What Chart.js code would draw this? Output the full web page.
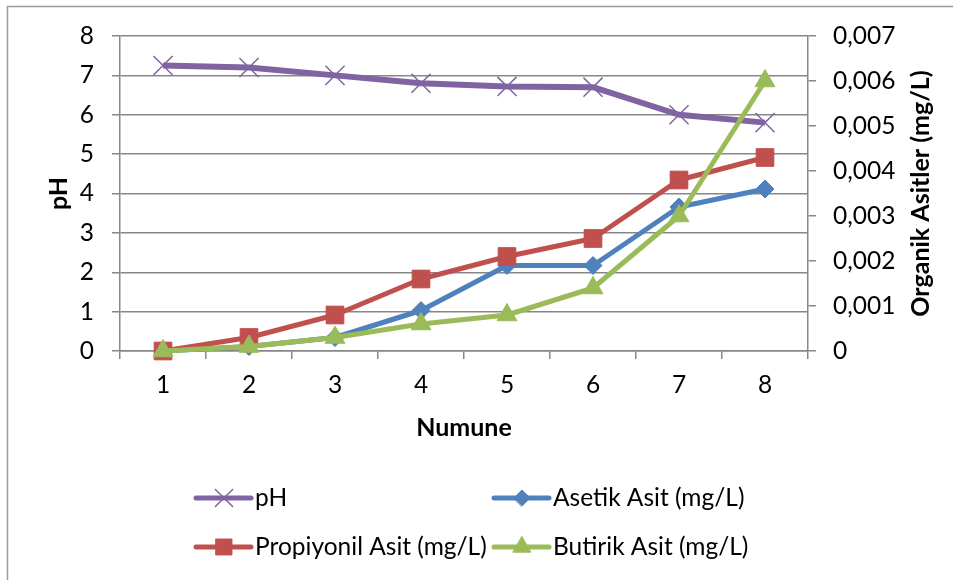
<!DOCTYPE html>
<html>
<head>
<meta charset="utf-8">
<script src="https://cdn.jsdelivr.net/npm/chart.js@4/dist/chart.umd.min.js"></script>
<style>
  html, body { margin: 0; padding: 0; background: #fff; }
  canvas { display: block; }
</style>
</head>
<body>
<canvas id="c" width="958" height="580"></canvas>
<script>
// ---- Data ----
const categories = ['1', '2', '3', '4', '5', '6', '7', '8'];
const phValues = [7.25, 7.2, 7.0, 6.8, 6.72, 6.7, 6.0, 5.8];
const asetikValues = [0, 0.0001, 0.0003, 0.0009, 0.0019, 0.0019, 0.0032, 0.0036];
const propiyonilValues = [0, 0.0003, 0.0008, 0.0016, 0.0021, 0.0025, 0.0038, 0.0043];
const butirikValues = [0, 0.0001, 0.0003, 0.0006, 0.0008, 0.0014, 0.003, 0.006];
const leftAxisRange = [0, 8];
const rightAxisRange = [0, 0.007];
const seriesNames = ['pH', 'Asetik Asit (mg/L)', 'Propiyonil Asit (mg/L)', 'Butirik Asit (mg/L)'];
const xTitle = 'Numune';
const leftTitle = 'pH';
const rightTitle = 'Organik Asitler (mg/L)';

const FONT = 'Lato, Calibri, Carlito, sans-serif';
const TICK_FONT = { family: FONT, size: 24.5 };
const TITLE_FONT = { family: FONT, size: 25, weight: 'bold' };
const GRID = '#878787';

const borderPlugin = {
  id: 'frame',
  beforeDraw(chart) {
    const ctx = chart.ctx;
    ctx.save();
    ctx.strokeStyle = '#9a9a9a';
    ctx.lineWidth = 1.5;
    ctx.beginPath();
    ctx.moveTo(7.5, 580);
    ctx.lineTo(7.5, 6.5);
    ctx.lineTo(953, 6.5);
    ctx.stroke();
    ctx.restore();
  }
};

const rightTitlePlugin = {
  id: 'rightTitle',
  afterDraw(chart) {
    const ctx = chart.ctx;
    const a = chart.chartArea;
    ctx.save();
    ctx.translate(921, (a.top + a.bottom) / 2);
    ctx.rotate(-Math.PI / 2);
    ctx.font = 'bold 25px ' + FONT;
    ctx.fillStyle = '#000';
    ctx.textAlign = 'center';
    ctx.textBaseline = 'middle';
    ctx.fillText(rightTitle, 0, 0);
    ctx.restore();
  }
};

const legendPlugin = {
  id: 'gridLegend',
  afterDraw(chart) {
    const ctx = chart.ctx;
    const cols = [196, 494];
    const rows = [498, 547];
    chart.data.datasets.forEach((ds, i) => {
      const x0 = cols[i % 2];
      const y = rows[Math.floor(i / 2)];
      ctx.save();
      ctx.strokeStyle = ds.borderColor;
      ctx.lineWidth = 5;
      ctx.lineCap = 'round';
      ctx.beginPath();
      ctx.moveTo(x0, y);
      ctx.lineTo(x0 + 55, y);
      ctx.stroke();
      ctx.fillStyle = ds.pointBackgroundColor;
      ctx.strokeStyle = ds.pointBorderColor;
      ctx.lineWidth = ds.pointBorderWidth;
      Chart.helpers.drawPoint(ctx, {
        pointStyle: ds.pointStyle,
        radius: ds.pointRadius * 0.9,
        borderWidth: ds.pointBorderWidth,
        rotation: 0
      }, x0 + 28, y);
      ctx.fillStyle = '#000';
      ctx.font = '24.5px ' + FONT;
      ctx.textAlign = 'left';
      ctx.textBaseline = 'middle';
      ctx.fillText(ds.label, x0 + 59, y);
      ctx.restore();
    });
  }
};

new Chart(document.getElementById('c'), {
  type: 'line',
  data: {
    labels: categories,
    datasets: [
      {
        label: seriesNames[0], data: phValues, yAxisID: 'y', order: 4,
        borderColor: '#8064A2', borderWidth: 6,
        pointStyle: 'crossRot', pointRadius: 13.5,
        pointBorderColor: '#8064A2', pointBackgroundColor: '#8064A2', pointBorderWidth: 1.5
      },
      {
        label: seriesNames[1], data: asetikValues, yAxisID: 'y1', order: 3,
        borderColor: '#4F81BD', borderWidth: 5,
        pointStyle: 'rectRot', pointRadius: 9,
        pointBorderColor: '#4F81BD', pointBackgroundColor: '#4F81BD', pointBorderWidth: 1
      },
      {
        label: seriesNames[2], data: propiyonilValues, yAxisID: 'y1', order: 2,
        borderColor: '#C0504D', borderWidth: 5,
        pointStyle: 'rect', pointRadius: 12.5,
        pointBorderColor: '#C0504D', pointBackgroundColor: '#C0504D', pointBorderWidth: 1
      },
      {
        label: seriesNames[3], data: butirikValues, yAxisID: 'y1', order: 1,
        borderColor: '#9BBB59', borderWidth: 5,
        pointStyle: 'triangle', pointRadius: 11.5,
        pointBorderColor: '#9BBB59', pointBackgroundColor: '#9BBB59', pointBorderWidth: 1
      }
    ]
  },
  options: {
    responsive: false,
    animation: false,
    devicePixelRatio: 1,
    clip: false,
    datasets: { line: { tension: 0, borderJoinStyle: 'round', clip: false } },
    layout: { padding: { left: 0, right: 0, top: 36, bottom: 129 } },
    plugins: { legend: { display: false }, tooltip: { enabled: false } },
    scales: {
      x: {
        type: 'category',
        offset: true,
        grid: { offset: true, drawOnChartArea: false, drawTicks: true, tickLength: 8, color: GRID, lineWidth: 1.5 },
        border: { color: GRID, width: 1.5 },
        ticks: { font: TICK_FONT, color: '#000', padding: 11, maxRotation: 0 },
        title: { display: true, text: xTitle, font: TITLE_FONT, color: '#000', padding: { top: 0, bottom: 8 } },
        afterFit(s) { s.height = 100; }
      },
      y: {
        position: 'left',
        min: leftAxisRange[0], max: leftAxisRange[1],
        ticks: { stepSize: 1, font: TICK_FONT, color: '#000', padding: 18 },
        grid: { color: GRID, lineWidth: 1.5, tickLength: 8 },
        border: { color: GRID, width: 1.5 },
        title: { display: true, text: leftTitle, font: TITLE_FONT, color: '#000', padding: { top: 44, bottom: 0 } },
        afterFit(s) { s.width = 120; }
      },
      y1: {
        position: 'right',
        min: rightAxisRange[0], max: rightAxisRange[1],
        ticks: {
          stepSize: 0.001, font: TICK_FONT, color: '#000', padding: 17,
          callback: v => {
            const r = Math.round(v * 1000) / 1000;
            return r === 0 ? '0' : r.toFixed(3).replace('.', ',');
          }
        },
        grid: { drawOnChartArea: false, color: GRID, lineWidth: 1.5, tickLength: 8 },
        border: { color: GRID, width: 1.5 },
        afterFit(s) { s.width = 150; }
      }
    }
  },
  plugins: [borderPlugin, rightTitlePlugin, legendPlugin]
});
</script>
</body>
</html>
